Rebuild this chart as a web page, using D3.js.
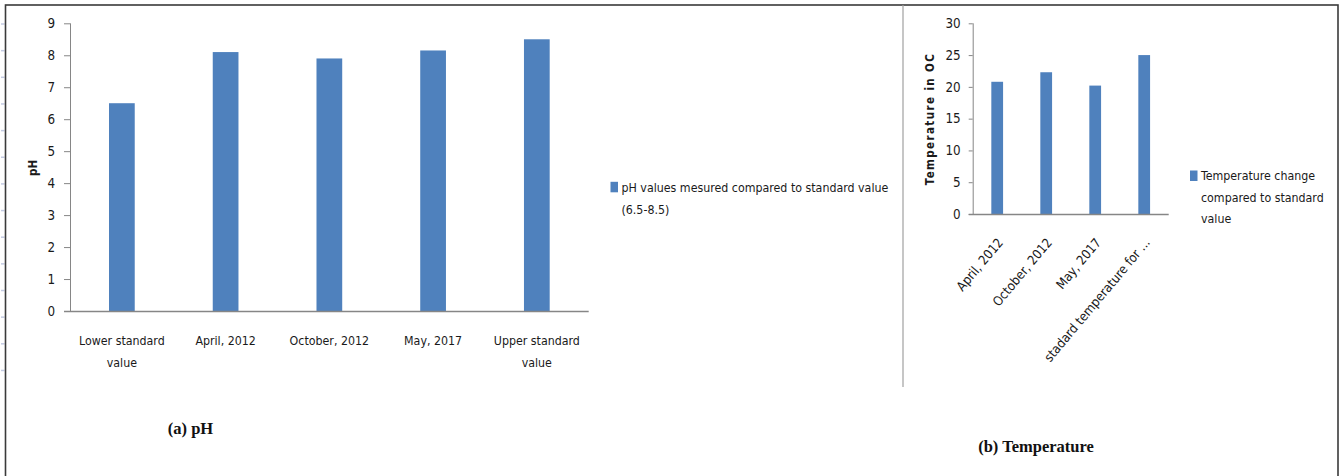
<!DOCTYPE html>
<html>
<head>
<meta charset="utf-8">
<script src="https://cdn.jsdelivr.net/npm/d3@7"></script>
<style>
  html, body { margin: 0; padding: 0; background: #fff; }
  svg { display: block; }
  .lbl { font-family: "DejaVu Sans Condensed", "Liberation Sans Narrow", sans-serif; fill: #1a1a1a; }
  .cap { font-family: "Liberation Serif", "DejaVu Serif", serif; font-weight: bold; fill: #111; }
</style>
</head>
<body>
<svg id="chart" width="1344" height="476"></svg>
<script>
// ---- Data ----
const phCategories = ["Lower standard\nvalue", "April, 2012", "October, 2012", "May, 2017", "Upper standard\nvalue"];
const phValues = [6.5, 8.1, 7.9, 8.15, 8.5];
const phTicks = [0, 1, 2, 3, 4, 5, 6, 7, 8, 9];
const phLegend = ["pH values mesured compared to standard value", "(6.5-8.5)"];
const phAxisTitle = "pH";
const phCaption = "(a) pH";

const tempCategories = ["April, 2012", "October, 2012", "May, 2017", "stadard temperature for ..."];
const tempValues = [20.8, 22.3, 20.2, 25];
const tempTicks = [0, 5, 10, 15, 20, 25, 30];
const tempLegend = ["Temperature change", "compared to standard", "value"];
const tempAxisTitle = "Temperature in OC";
const tempCaption = "(b) Temperature";

const BAR = "#4F81BD";
const AXIS = "#868686";
const FS = 12.3;

const svg = d3.select("#chart");

// page decorations: left ruler marks and frame
const rulerY = d3.range(24, 380, 26.65);
svg.selectAll("line.ruler").data(rulerY).enter().append("line")
  .attr("x1", 1).attr("x2", 4.5).attr("y1", d => d).attr("y2", d => d)
  .attr("stroke", "#c4cbe3").attr("stroke-width", 1.5);
svg.append("rect").attr("x", 5.5).attr("y", 5).attr("width", 1332.5).attr("height", 490)
  .attr("fill", "none").attr("stroke", "#3a3a3a").attr("stroke-width", 1.6);
svg.append("line").attr("x1", 903).attr("x2", 903).attr("y1", 5).attr("y2", 387)
  .attr("stroke", "#a0a0a0").attr("stroke-width", 1.2);

function drawChart(o) {
  const g = svg.append("g");
  const x = d3.scaleBand().domain(o.categories).range([o.x0, o.x1]).padding(0);
  const y = d3.scaleLinear().domain([o.ticks[0], o.ticks[o.ticks.length - 1]]).range([o.y0, o.y1]);
  const bw = x.bandwidth() * o.barFrac;

  // y axis
  const ya = g.append("g").attr("transform", `translate(${o.x0},0)`)
    .call(d3.axisLeft(y).tickValues(o.ticks).tickSize(o.tickSize).tickPadding(o.tickPad).tickFormat(d3.format("d")));
  ya.select(".domain").attr("stroke", AXIS).attr("d", `M0.5,${o.y1}V${o.y0}`);
  ya.selectAll(".tick line").attr("stroke", AXIS);
  ya.selectAll(".tick text").attr("class", "lbl").attr("font-size", 13.3).attr("fill", "#1a1a1a");

  // bars
  g.selectAll("rect.bar").data(o.values).enter().append("rect")
    .attr("x", (d, i) => x(o.categories[i]) + x.bandwidth() / 2 - bw / 2)
    .attr("y", d => y(d))
    .attr("width", bw)
    .attr("height", d => y(0) - y(d))
    .attr("fill", BAR);

  // x axis line
  g.append("line").attr("x1", o.x0 - o.tickSize).attr("x2", o.x1).attr("y1", y(0) + 0.5).attr("y2", y(0) + 0.5)
    .attr("stroke", AXIS).attr("stroke-width", 1.3);

  // x labels
  o.categories.forEach(c => {
    const cx = x(c) + x.bandwidth() / 2;
    if (o.rotate) {
      g.append("text").attr("class", "lbl").attr("font-size", 13)
        .attr("text-anchor", "end")
        .attr("transform", `translate(${cx + o.rotDx},${y(0) + o.rotDy}) rotate(${o.rotate})`)
        .attr("dy", "0.35em").text(c);
    } else {
      const lines = c.split("\n");
      const t = g.append("text").attr("class", "lbl").attr("font-size", FS).attr("text-anchor", "middle");
      lines.forEach((l, i) => t.append("tspan").attr("x", cx).attr("y", o.labelY + i * o.lineH).text(l));
    }
  });

  // axis title
  g.append("text").attr("class", "lbl").attr("font-size", o.titleSize).attr("font-weight", "bold")
    .attr("font-family", "'DejaVu Sans', sans-serif")
    .attr("letter-spacing", o.titleSpacing)
    .attr("text-anchor", "middle")
    .attr("transform", `translate(${o.titleX},${o.titleY}) rotate(-90)`)
    .attr("dy", "0.35em").text(o.title);

  // legend
  g.append("rect").attr("x", o.legX).attr("y", o.legY - 5.5).attr("width", 7.5).attr("height", 10.5).attr("fill", BAR);
  const lt = g.append("text").attr("class", "lbl").attr("font-size", FS);
  o.legend.forEach((l, i) => lt.append("tspan").attr("x", o.legX + 11).attr("y", o.legY + i * o.legLineH).attr("dy", "0.35em").text(l));

  // caption
  g.append("text").attr("class", "cap").attr("font-size", 16.5).attr("text-anchor", "middle")
    .attr("x", o.capX).attr("y", o.capY).attr("dy", "0.35em").text(o.caption);
}

drawChart({
  categories: phCategories, values: phValues, ticks: phTicks,
  x0: 70, x1: 588.7, y0: 311, y1: 23.3, barFrac: 0.248, tickSize: 6, tickPad: 9,
  labelY: 344.5, lineH: 22,
  title: phAxisTitle, titleX: 33, titleY: 168, titleSize: 11.5, titleSpacing: 0,
  legend: phLegend, legX: 610.5, legY: 187.3, legLineH: 22,
  caption: phCaption, capX: 190.5, capY: 428
});

drawChart({
  categories: tempCategories, values: tempValues, ticks: tempTicks,
  x0: 972.7, x1: 1168.7, y0: 214, y1: 23.3, barFrac: 0.24, tickSize: 4, tickPad: 8,
  rotate: -50, rotDx: 3, rotDy: 26,
  title: tempAxisTitle, titleX: 929.5, titleY: 119, titleSize: 11.5, titleSpacing: 1.4,
  legend: tempLegend, legX: 1190, legY: 176, legLineH: 21.5,
  caption: tempCaption, capX: 1036, capY: 446.7
});
</script>
</body>
</html>
